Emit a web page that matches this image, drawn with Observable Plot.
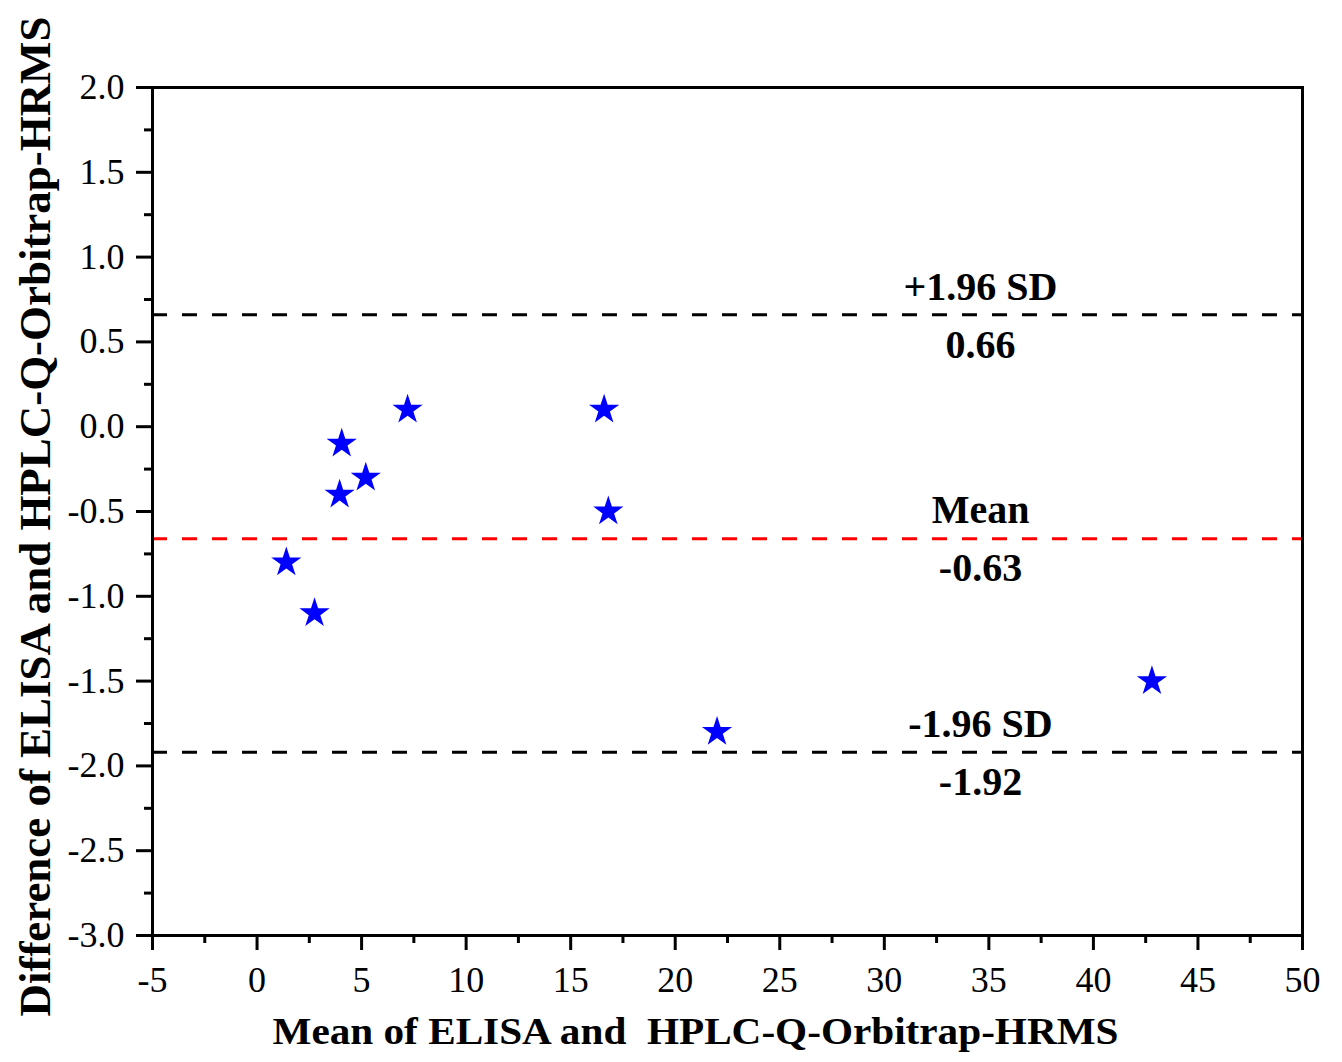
<!DOCTYPE html>
<html>
<head>
<meta charset="utf-8">
<script src="https://cdn.jsdelivr.net/npm/d3@7"></script>
<script src="https://cdn.jsdelivr.net/npm/@observablehq/plot@0.6"></script>
<style>
  html, body { margin: 0; padding: 0; background: #fff; }
</style>
</head>
<body>
<div id="chart"></div>
<script>
// Data
const meanValues = [1.4, 2.75, 4.05, 3.95, 5.2, 7.2, 16.6, 16.8, 22.0, 42.8];
const diffValues = [-0.8, -1.1, -0.1, -0.4, -0.3, 0.1, 0.1, -0.5, -1.8, -1.5];

const limitValues = [0.66, -0.66, -1.92];
const limitColors = ["black", "red", "black"];
const limitNames = ["+1.96 SD", "Mean", "-1.96 SD"];
const limitValueLabels = ["0.66", "-0.63", "-1.92"];

const xMajorTicks = [-5, 0, 5, 10, 15, 20, 25, 30, 35, 40, 45, 50];
const xMinorTicks = [-2.5, 2.5, 7.5, 12.5, 17.5, 22.5, 27.5, 32.5, 37.5, 42.5, 47.5];
const yMajorTicks = [-3.0, -2.5, -2.0, -1.5, -1.0, -0.5, 0.0, 0.5, 1.0, 1.5, 2.0];
const yMinorTicks = [-2.75, -2.25, -1.75, -1.25, -0.75, -0.25, 0.25, 0.75, 1.25, 1.75];

const xTitle = "Mean of ELISA and  HPLC-Q-Orbitrap-HRMS";
const yTitle = "Difference of ELISA and HPLC-Q-Orbitrap-HRMS";

const points = meanValues.map((m, i) => ({x: m, y: diffValues[i]}));
const limits = limitValues.map((v, i) => ({y: v, color: limitColors[i], name: limitNames[i], value: limitValueLabels[i]}));

const labelX = 34.6;

const chart = Plot.plot({
  width: 1342,
  height: 1062,
  marginLeft: 152,
  marginRight: 40,
  marginTop: 87,
  marginBottom: 127,
  style: {fontFamily: "'Liberation Serif', 'Times New Roman', serif", fontSize: "36px", color: "black", background: "white"},
  x: {domain: [-5, 50]},
  y: {domain: [-3, 2]},
  marks: [
    Plot.axisX({ticks: xMajorTicks, tickSize: 15, tickPadding: 16, strokeWidth: 3, tickFormat: d => String(d), label: null, fontSize: 36}),
    Plot.axisX({ticks: xMinorTicks, tickSize: 8, strokeWidth: 3, text: null, label: null}),
    Plot.axisY({ticks: yMajorTicks, tickSize: 16, tickPadding: 12, strokeWidth: 3, tickFormat: d => d.toFixed(1), label: null, fontSize: 36}),
    Plot.axisY({ticks: yMinorTicks, tickSize: 8, strokeWidth: 3, text: null, label: null}),
    Plot.ruleY(limits, {y: "y", stroke: "color", strokeWidth: 3, strokeDasharray: "15,15"}),
    Plot.text(limits, {x: () => labelX, y: "y", text: "name", dy: -28, fontSize: 40, fontWeight: "bold", fill: "black"}),
    Plot.text(limits, {x: () => labelX, y: "y", text: "value", dy: 30, fontSize: 40, fontWeight: "bold", fill: "black"}),
    Plot.dot(points, {x: "x", y: "y", symbol: "star", r: 9.5, fill: "#0000ff", stroke: "none"}),
    Plot.frame({strokeWidth: 3}),
    Plot.text([xTitle], {frameAnchor: "bottom", textAnchor: "middle", dy: 108, dx: -32, fontSize: 37, fontWeight: "bold", fill: "black", text: d => d}),
    Plot.text([yTitle], {frameAnchor: "left", textAnchor: "middle", dx: -117, dy: 5, rotate: -90, fontSize: 45, fontWeight: "bold", fill: "black", text: d => d})
  ]
});
document.getElementById("chart").appendChild(chart);

// Reference picture has non-square pixel scaling: fit the title lengths
d3.select(chart).selectAll("text").each(function() {
  const t = this.textContent;
  if (t === xTitle) { this.setAttribute("textLength", 846); this.setAttribute("lengthAdjust", "spacingAndGlyphs"); }
  if (t === yTitle) { this.setAttribute("textLength", 1000); this.setAttribute("lengthAdjust", "spacingAndGlyphs"); }
});
</script>
</body>
</html>
